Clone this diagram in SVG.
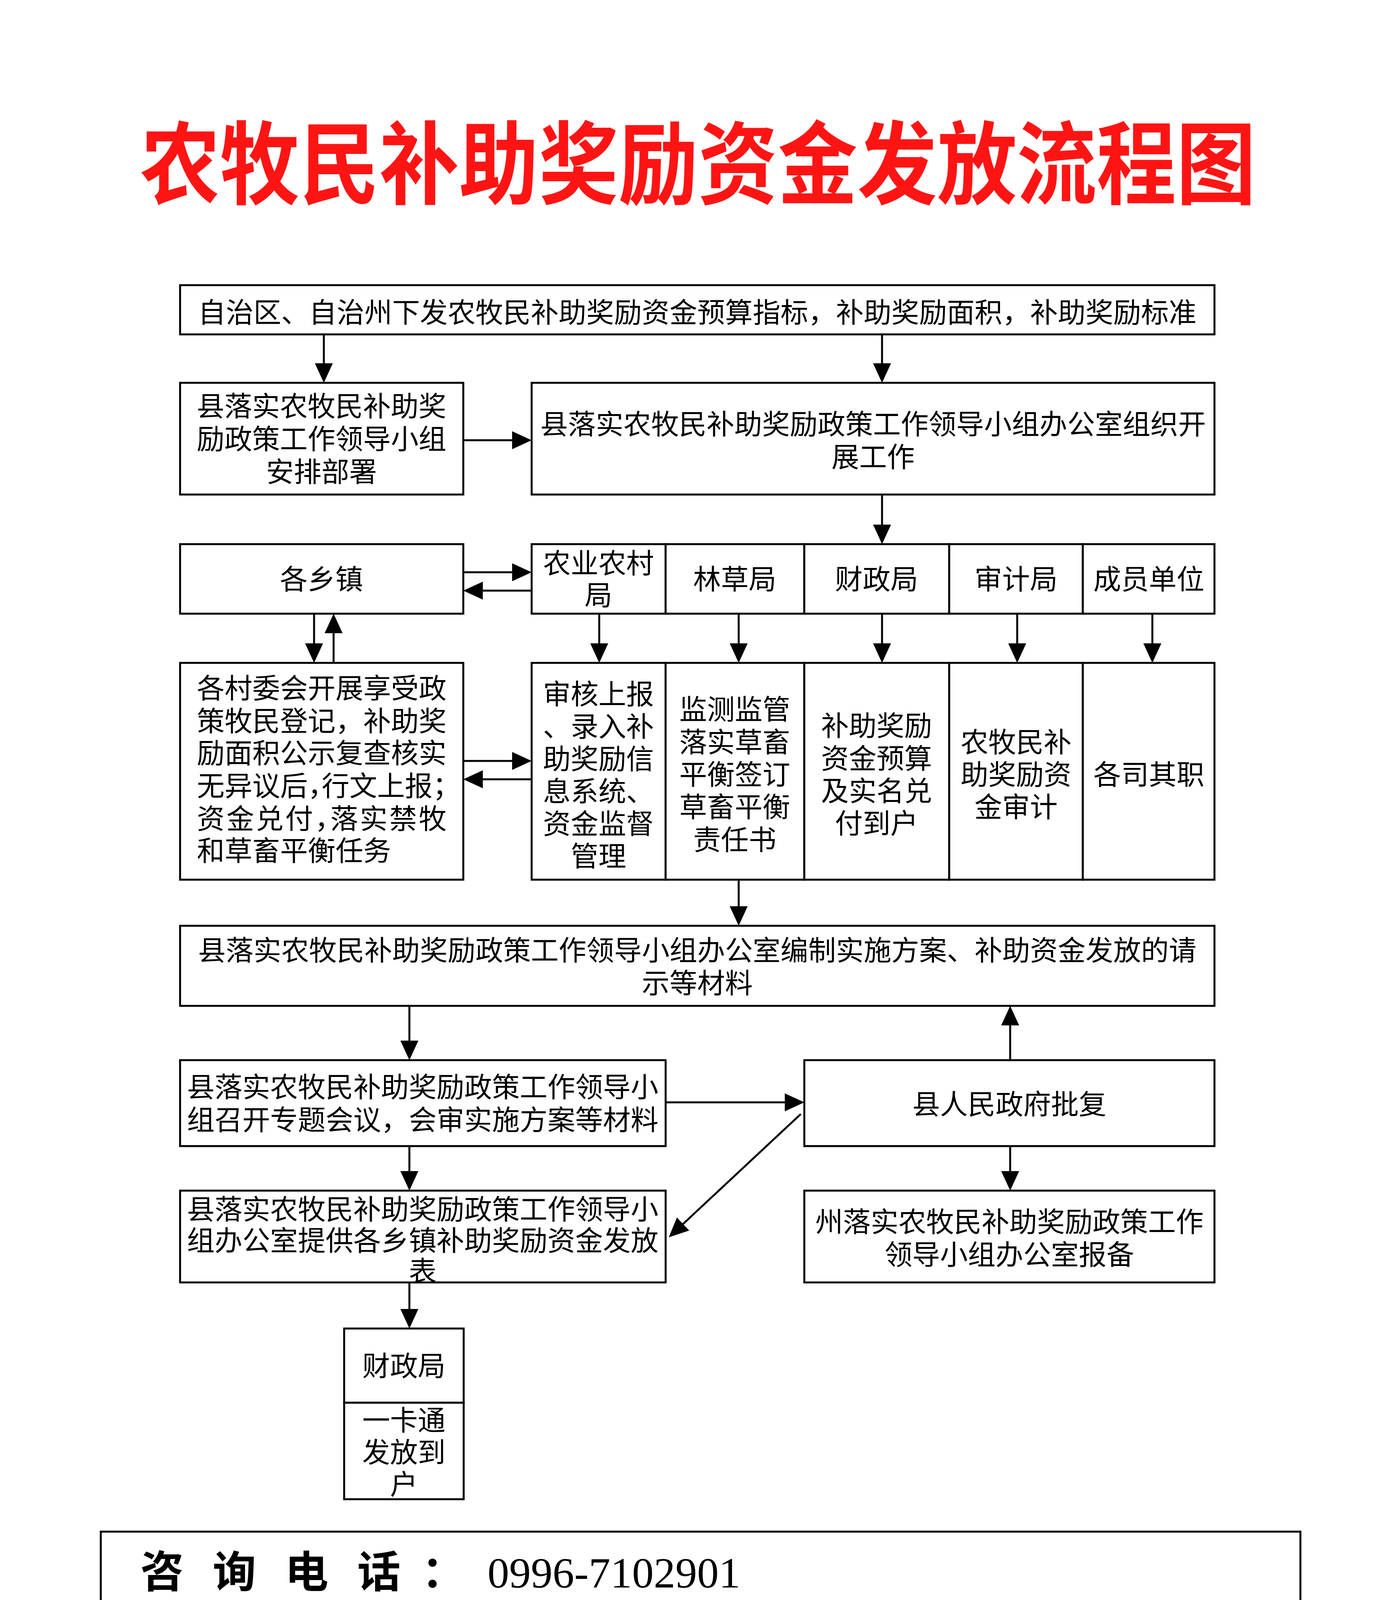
<svg xmlns="http://www.w3.org/2000/svg" width="3543" height="4724" viewBox="0 0 3543 4724">
<style>
.box{fill:#fff;stroke:#000;stroke-width:5}
.t{font-family:"Liberation Serif","Noto Sans CJK SC",serif;font-size:71px;fill:#000;text-anchor:middle}
.l{text-anchor:start}
.h{font-feature-settings:"halt" 1}
.title{font-family:"Noto Sans CJK SC",sans-serif;font-weight:700;font-size:204px;fill:#ff1414;text-anchor:middle}
.big{font-family:"Liberation Serif","Noto Sans CJK SC",serif;font-size:111px;fill:#000}
.bold{font-family:"Noto Sans CJK SC",sans-serif;font-weight:700}
#connectors line{stroke:#000;stroke-width:5;fill:none;marker-end:url(#ah)}
</style>
<defs>
<marker id="ah" markerUnits="userSpaceOnUse" viewBox="0 0 50 46" markerWidth="50" markerHeight="46" refX="20" refY="23" orient="auto">
<path d="M0,0 L50,23 L0,46 z" fill="#000"/>
</marker>
</defs>
<rect width="3543" height="4724" fill="#fff"/>
<g id="title"><text class="title" transform="translate(1787,504) scale(1,1.13)">农牧民补助奖励资金发放流程图</text></g>

<g id="connectors">
<line x1="829" y1="856" x2="829" y2="950"/>
<line x1="2258" y1="856" x2="2258" y2="950"/>
<line x1="1186" y1="1127" x2="1331" y2="1127"/>
<line x1="2258" y1="1266" x2="2258" y2="1363"/>
<line x1="1186" y1="1465" x2="1331" y2="1465"/>
<line x1="1361" y1="1512" x2="1216" y2="1512"/>
<line x1="1534" y1="1571" x2="1534" y2="1667"/>
<line x1="1891" y1="1571" x2="1891" y2="1667"/>
<line x1="2258" y1="1571" x2="2258" y2="1667"/>
<line x1="2604" y1="1571" x2="2604" y2="1667"/>
<line x1="2950" y1="1571" x2="2950" y2="1667"/>
<line x1="804" y1="1571" x2="804" y2="1667"/>
<line x1="854" y1="1697" x2="854" y2="1601"/>
<line x1="1186" y1="1948" x2="1331" y2="1948"/>
<line x1="1361" y1="1995" x2="1216" y2="1995"/>
<line x1="1891" y1="2252" x2="1891" y2="2340"/>
<line x1="1048" y1="2575" x2="1048" y2="2684"/>
<line x1="1704" y1="2822" x2="2029" y2="2822"/>
<line x1="2586" y1="2714" x2="2586" y2="2605"/>
<line x1="2586" y1="2934" x2="2586" y2="3018"/>
<line x1="2050" y1="2852" x2="1734" y2="3147"/>
<line x1="1048" y1="2934" x2="1048" y2="3018"/>
<line x1="1048" y1="3283" x2="1048" y2="3371"/>
</g>

<g id="n-source"><rect class="box" x="461" y="730" width="2648" height="126"/>
<text class="t" x="1785" y="825">自治区、自治州下发农牧民补助奖励资金预算指标，补助奖励面积，补助奖励标准</text></g>

<g id="n-leader"><rect class="box" x="461" y="980" width="725" height="286"/>
<text class="t" x="823" y="1065">县落实农牧民补助奖</text>
<text class="t" x="823" y="1149">励政策工作领导小组</text>
<text class="t" x="823" y="1233">安排部署</text></g>

<g id="n-office"><rect class="box" x="1361" y="980" width="1748" height="286"/>
<text class="t" x="2235" y="1111">县落实农牧民补助奖励政策工作领导小组办公室组织开</text>
<text class="t" x="2235" y="1195">展工作</text></g>

<g id="n-towns"><rect class="box" x="461" y="1393" width="725" height="178"/>
<text class="t" x="823" y="1508">各乡镇</text></g>

<g id="n-agri"><rect class="box" x="1361" y="1393" width="343" height="178"/>
<text class="t" x="1532" y="1467">农业农村</text>
<text class="t" x="1532" y="1549">局</text></g>
<g id="n-forest"><rect class="box" x="1704" y="1393" width="355" height="178"/>
<text class="t" x="1881" y="1508">林草局</text></g>
<g id="n-finance"><rect class="box" x="2059" y="1393" width="371" height="178"/>
<text class="t" x="2244" y="1508">财政局</text></g>
<g id="n-audit"><rect class="box" x="2430" y="1393" width="342" height="178"/>
<text class="t" x="2601" y="1508">审计局</text></g>
<g id="n-members"><rect class="box" x="2772" y="1393" width="337" height="178"/>
<text class="t" x="2941" y="1508">成员单位</text></g>

<g id="n-villages"><rect class="box" x="461" y="1697" width="725" height="555"/>
<text class="t l" x="504" y="1787">各村委会开展享受政</text>
<text class="t l" x="504" y="1871">策牧民登记，补助奖</text>
<text class="t l" x="504" y="1953">励面积公示复查核实</text>
<text class="t l h" x="504" y="2037" textLength="639" lengthAdjust="spacing">无异议后，行文上报；</text>
<text class="t l h" x="504" y="2121" textLength="639" lengthAdjust="spacing">资金兑付，落实禁牧</text>
<text class="t l" x="504" y="2203">和草畜平衡任务</text></g>

<g id="n-agri-task"><rect class="box" x="1361" y="1697" width="343" height="555"/>
<text class="t" x="1532" y="1802">审核上报</text>
<text class="t" x="1532" y="1885">、录入补</text>
<text class="t" x="1532" y="1968">助奖励信</text>
<text class="t" x="1532" y="2051">息系统、</text>
<text class="t" x="1532" y="2134">资金监督</text>
<text class="t" x="1532" y="2217">管理</text></g>
<g id="n-forest-task"><rect class="box" x="1704" y="1697" width="355" height="555"/>
<text class="t" x="1881" y="1841">监测监管</text>
<text class="t" x="1881" y="1925">落实草畜</text>
<text class="t" x="1881" y="2008">平衡签订</text>
<text class="t" x="1881" y="2091">草畜平衡</text>
<text class="t" x="1881" y="2175">责任书</text></g>
<g id="n-finance-task"><rect class="box" x="2059" y="1697" width="371" height="555"/>
<text class="t" x="2244" y="1883">补助奖励</text>
<text class="t" x="2244" y="1967">资金预算</text>
<text class="t" x="2244" y="2050">及实名兑</text>
<text class="t" x="2244" y="2133">付到户</text></g>
<g id="n-audit-task"><rect class="box" x="2430" y="1697" width="342" height="555"/>
<text class="t" x="2601" y="1925">农牧民补</text>
<text class="t" x="2601" y="2008">助奖励资</text>
<text class="t" x="2601" y="2091">金审计</text></g>
<g id="n-members-task"><rect class="box" x="2772" y="1697" width="337" height="555"/>
<text class="t" x="2941" y="2008">各司其职</text></g>

<g id="n-plan"><rect class="box" x="461" y="2370" width="2648" height="205"/>
<text class="t" x="1785" y="2458">县落实农牧民补助奖励政策工作领导小组办公室编制实施方案、补助资金发放的请</text>
<text class="t" x="1785" y="2542">示等材料</text></g>

<g id="n-meeting"><rect class="box" x="461" y="2714" width="1243" height="220"/>
<text class="t" x="1082" y="2808">县落实农牧民补助奖励政策工作领导小</text>
<text class="t" x="1082" y="2892">组召开专题会议，会审实施方案等材料</text></g>

<g id="n-gov"><rect class="box" x="2059" y="2714" width="1050" height="220"/>
<text class="t" x="2584" y="2852">县人民政府批复</text></g>

<g id="n-table"><rect class="box" x="461" y="3048" width="1243" height="235"/>
<text class="t" x="1082" y="3121">县落实农牧民补助奖励政策工作领导小</text>
<text class="t" x="1082" y="3201">组办公室提供各乡镇补助奖励资金发放</text>
<text class="t" x="1082" y="3279">表</text></g>

<g id="n-prefecture"><rect class="box" x="2059" y="3048" width="1050" height="235"/>
<text class="t" x="2584" y="3153">州落实农牧民补助奖励政策工作</text>
<text class="t" x="2584" y="3237">领导小组办公室报备</text></g>

<g id="n-finance2"><rect class="box" x="881" y="3401" width="306" height="190"/>
<text class="t" x="1034" y="3522">财政局</text></g>
<g id="n-card"><rect class="box" x="881" y="3591" width="306" height="247"/>
<text class="t" x="1034" y="3661">一卡通</text>
<text class="t" x="1034" y="3743">发放到</text>
<text class="t" x="1034" y="3825">户</text></g>

<g id="n-info"><rect class="box" x="258" y="3921" width="3071" height="456"/>
<text class="big" y="4064"><tspan class="bold" x="415 600 785 970 1135" text-anchor="middle">咨询电话：</tspan><tspan x="1248">0996-7102901</tspan></text>
<text class="big" y="4203"><tspan class="bold" x="360">政策法规依据</tspan><tspan class="bold" x="1135" text-anchor="middle">：</tspan><tspan class="h" x="1248">（若草补办字〔2017〕6号）（若草补办</tspan></text>
<text class="big h" x="360" y="4341">字〔2021〕14号）</text></g>
</svg>
